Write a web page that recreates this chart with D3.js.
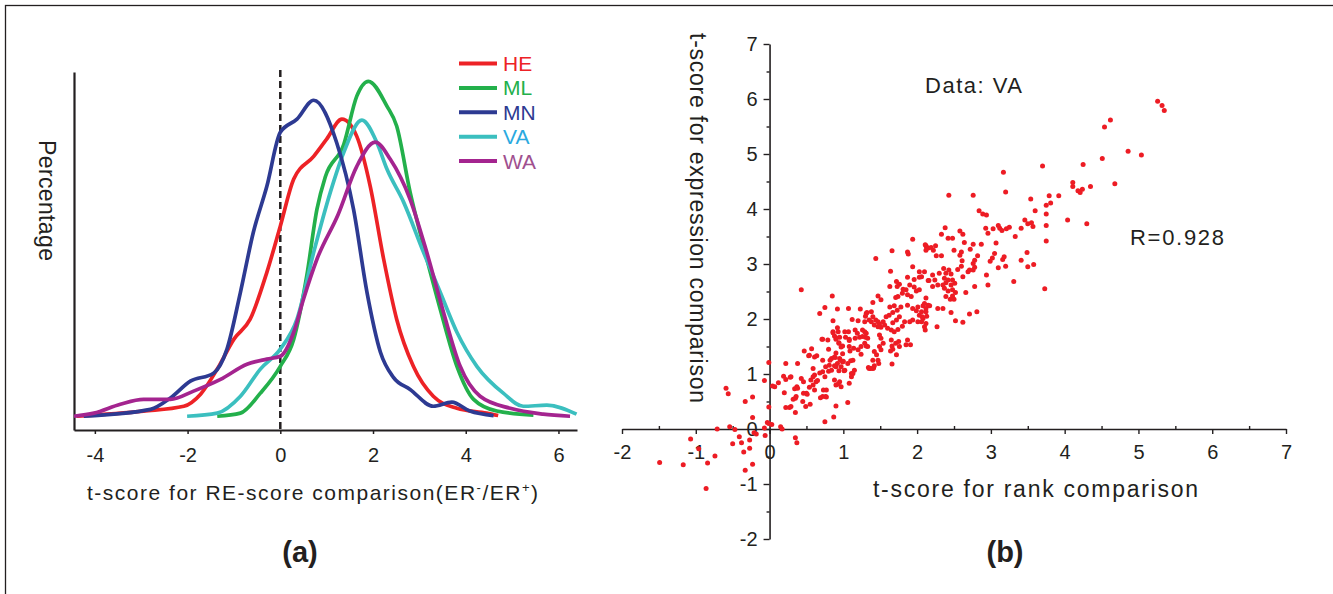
<!DOCTYPE html>
<html><head><meta charset="utf-8">
<script src="https://cdn.jsdelivr.net/npm/d3@7"></script>
<style>
body{margin:0;background:#fff}
svg{display:block}
text{font-family:"Liberation Sans",Arial,Helvetica,sans-serif;fill:#231f20}
</style>
</head><body>
<svg id="c" width="1333" height="594"></svg>
<script>
// ---------- data ----------
const seriesNames = ["HE","ML","MN","VA","WA"];
const lineColors  = {HE:"#ed2226", ML:"#23b04b", MN:"#2d3a92", VA:"#3bbfbf", WA:"#a4248f"};
const labelColors = {HE:"#ed2226", ML:"#23b04b", MN:"#2d3a92", VA:"#2aa9e0", WA:"#a0508f"};
const drawOrder = ["HE","ML","VA","MN","WA"];

// density curves: [t-score, percentage (arbitrary units)]
const densityHE = [[-4.4,0],[-2.95,0.15],[-2.08,0.29],[-1.72,0.64],[-1.36,1.37],[-1.0,2.24],[-0.65,2.82],[-0.29,4.18],[0,5.52],[0.29,6.89],[0.72,7.55],[1.0,8.05],[1.33,8.63],[1.65,8.13],[1.94,6.68],[2.23,4.56],[2.51,2.82],[2.87,1.45],[3.30,0.58],[3.81,0.23],[4.45,0.09],[4.7,0.02]];
const densityML = [[-1.36,0],[-0.86,0.09],[-0.43,0.67],[0,1.45],[0.29,2.24],[0.57,4.07],[0.79,6.01],[0.97,6.95],[1.37,7.9],[1.65,9.3],[1.90,9.73],[2.30,9.01],[2.51,8.43],[2.80,6.51],[3.09,4.94],[3.45,3.11],[3.81,1.45],[4.17,0.49],[4.67,0.15],[5.46,0.03]];
const densityMN = [[-4.24,0],[-2.80,0.20],[-2.37,0.53],[-1.94,1.02],[-1.44,1.25],[-1.15,1.95],[-0.86,3.60],[-0.58,5.35],[-0.29,6.68],[0,8.25],[0.36,8.63],[0.72,9.18],[1.22,7.93],[1.58,6.01],[1.87,3.60],[2.16,1.86],[2.44,1.13],[2.80,0.78],[3.30,0.29],[3.70,0.41],[4.09,0.15],[4.60,0.02]];
const densityVA = [[-2.01,0],[-1.36,0.09],[-0.86,0.58],[-0.43,1.37],[0,1.95],[0.36,2.82],[0.72,4.76],[1.08,6.51],[1.37,7.67],[1.76,8.60],[2.08,7.96],[2.30,7.18],[2.66,6.22],[3.09,4.76],[3.45,3.60],[3.81,2.44],[4.24,1.45],[4.81,0.67],[5.24,0.29],[5.75,0.32],[6.39,0.06]];
const densityWA = [[-4.45,0],[-4.02,0.09],[-3.45,0.35],[-2.95,0.49],[-2.37,0.49],[-1.87,0.73],[-1.29,1.07],[-0.72,1.51],[-0.29,1.66],[0,1.74],[0.29,2.44],[0.5,3.40],[0.79,4.56],[1.25,5.87],[1.65,7.26],[2.05,7.96],[2.37,7.47],[2.80,6.30],[3.16,4.76],[3.52,3.02],[3.88,1.45],[4.31,0.58],[4.96,0.23],[5.67,0.06],[6.25,0]];
const densities = {HE:densityHE, ML:densityML, MN:densityMN, VA:densityVA, WA:densityWA};
const leftTicks = [-4,-2,0,2,4,6];

// scatter (Data: VA): [t-score rank comparison, t-score expression comparison]
const vaPoints = [
[-1.49,-0.61],[-1.17,-0.65],[-1.07,-0.18],[-0.96,-0.36],[-0.84,-0.62],[-0.86,-1.08],[-0.74,-0.49],[-0.71,0.0],[-0.59,0.74],[-0.56,0.64],[-0.54,0.04],[-0.47,-0.01],[-0.50,-0.27],[-0.41,-0.14],[-0.38,-0.25],[-0.35,-0.42],[-0.33,0.50],[-0.33,-0.75],[-0.27,-0.20],[-0.27,-0.35],[-0.23,0.58],[-0.23,0.21],[-0.23,-0.64],[-0.21,-0.07],[-0.18,-0.09],[-0.07,0.88],[-0.07,0.02],[-0.06,-0.12],[-0.03,0.12],[-0.01,1.21],[-0.01,0.40],[-0.01,0.10],[0.03,0.08],[0.04,0.78],[0.07,0.77],[0.12,0.84],[0.15,0.04],[0.17,0.0],[0.19,0.96],[0.22,1.19],[0.22,0.90],[0.20,0.66],[0.22,0.39],[0.27,0.39],[0.28,0.94],[0.35,0.30],[0.35,-0.16],[0.37,-0.25],[0.38,1.19],[0.34,0.73],[0.35,0.56],[0.37,0.77],
[0.43,2.53],[0.85,2.42],[0.75,2.21],[0.68,2.10],[0.92,2.18],[1.07,2.19],[1.23,2.18],[1.31,2.10],[1.12,1.99],[0.86,1.97],[1.20,1.97],[1.29,1.95],[0.86,1.77],[0.93,1.77],[1.02,1.77],[1.07,1.77],[1.16,1.80],[1.19,1.74],[1.29,1.77],[0.88,1.69],[0.95,1.67],[0.90,1.63],[1.03,1.67],[1.08,1.63],[1.16,1.65],[1.22,1.67],[1.30,1.67],[0.72,1.63],[0.79,1.62],[0.94,1.56],[0.99,1.51],[1.08,1.50],[1.14,1.47],[1.20,1.44],[1.24,1.36],[1.31,1.51],[0.80,1.45],[0.57,1.46],[0.47,1.42],[0.53,1.33],[0.61,1.31],[0.72,1.25],[0.64,1.33],[0.90,1.38],[0.88,1.31],[0.84,1.28],[0.95,1.28],[0.99,1.22],[1.06,1.19],[1.13,1.25],[0.81,1.16],[0.88,1.15],[0.76,1.13],[0.84,1.07],[0.90,1.13],[0.97,1.13],[1.02,1.07],[1.11,1.01],[1.15,1.07],[1.34,1.12],[0.59,1.10],[0.68,1.02],[0.72,1.04],[0.75,0.95],[0.61,0.98],[0.56,0.89],[0.63,0.86],[0.59,0.80],[0.54,0.76],[0.50,0.65],[0.61,0.71],[0.29,0.95],[0.43,0.92],[0.46,0.86],[0.38,0.74],[0.36,0.59],[0.32,0.54],[0.45,0.50],[0.49,0.41],[0.55,0.45],[0.29,0.41],[0.88,0.89],[0.90,0.80],[0.97,0.77],[0.95,0.86],[0.77,0.71],[0.72,0.59],[0.76,0.59],[1.08,0.83],[1.13,1.01],[1.11,0.95],[0.90,0.42],[1.06,0.48],[0.87,0.22],[0.75,0.13],
[0.54,1.34],[0.71,1.63],[0.86,1.75],[0.92,1.84],[0.94,1.57],[0.96,1.25],[0.97,1.49],[0.99,1.37],[1.00,1.23],[1.01,1.06],[1.08,1.61],[1.09,1.42],[1.10,1.24],[1.41,1.11],[1.37,1.10],[0.46,0.65],[0.51,0.63],[0.59,0.95],[0.65,0.88],[0.69,0.57],[0.73,0.71],[0.77,0.58],[0.80,1.05],[0.82,1.25],[0.89,1.30],[0.90,1.66],[0.92,1.19],[0.93,0.82],[0.94,1.06],
[1.94,3.45],[2.12,3.33],[2.15,3.29],[1.66,3.24],[1.87,3.22],[1.88,3.18],[1.44,3.10],[1.94,2.95],[2.03,2.86],[2.10,2.86],[1.64,2.87],[1.87,2.76],[1.96,2.72],[2.03,2.76],[2.15,2.70],[1.72,2.68],[1.76,2.63],[1.73,2.59],[1.63,2.59],[1.90,2.62],[1.96,2.58],[2.03,2.53],[1.99,2.51],[1.85,2.53],[1.81,2.54],[1.80,2.47],[1.74,2.41],[1.71,2.39],[1.87,2.44],[1.92,2.41],[2.12,2.38],[1.47,2.42],[1.51,2.35],[1.40,2.30],[1.63,2.22],[1.69,2.24],[1.78,2.22],[1.73,2.16],[1.67,2.12],[1.62,2.07],[1.58,2.04],[1.87,2.25],[1.94,2.19],[2.01,2.22],[1.99,2.15],[2.08,2.24],[2.12,2.19],[2.03,2.07],[2.08,2.01],[1.32,2.12],[1.30,2.05],[1.40,2.04],[1.44,1.98],[1.47,1.95],[1.49,1.91],[1.54,1.95],[1.56,1.89],[1.51,1.85],[1.47,1.86],[1.42,1.89],[1.38,1.95],[1.35,1.98],[1.60,1.83],[1.67,1.93],[1.72,1.98],[1.76,2.04],[1.65,1.80],[1.69,1.77],[1.74,1.81],[1.80,1.87],[1.83,1.95],[1.90,1.95],[1.94,1.98],[2.01,1.95],[2.06,1.95],[2.12,1.92],[2.10,1.86],[1.26,1.80],[1.31,1.74],[1.26,1.68],[1.33,1.65],[1.29,1.56],[1.24,1.50],[1.33,1.50],[1.49,1.71],[1.51,1.65],[1.54,1.56],[1.49,1.50],[1.51,1.44],[1.42,1.41],[1.45,1.35],[1.40,1.25],[1.47,1.25],[1.48,1.19],[1.35,1.10],[1.40,1.10],[1.42,1.15],[1.65,1.62],[1.66,1.51],[1.71,1.56],[1.75,1.59],[1.76,1.50],[1.67,1.45],[1.64,1.42],[1.72,1.35],[1.85,1.53],[1.91,1.53],[1.87,1.62],[1.66,1.18],[1.38,2.13],
[2.43,4.25],[2.76,4.25],[2.84,3.97],[2.89,3.91],[2.94,3.89],[2.93,3.65],[2.96,3.56],[2.38,3.66],[2.33,3.54],[2.42,3.47],[2.48,3.47],[2.58,3.60],[2.62,3.54],[2.64,3.39],[2.76,3.36],[2.87,3.36],[2.11,3.35],[2.13,3.30],[2.19,3.30],[2.25,3.33],[2.22,3.25],[2.12,3.25],[2.50,3.25],[2.60,3.22],[2.58,3.16],[2.72,3.27],[2.26,3.15],[2.33,3.15],[2.82,3.15],[2.78,3.07],[2.76,3.01],[2.78,2.94],[2.71,2.89],[2.69,2.86],[2.76,2.89],[2.60,2.96],[2.61,3.06],[2.55,2.90],[2.36,2.92],[2.43,2.89],[2.46,2.82],[2.39,2.83],[2.30,2.83],[2.21,2.80],[2.24,2.71],[2.16,2.70],[2.06,2.77],[2.37,2.74],[2.42,2.71],[2.48,2.71],[2.51,2.65],[2.46,2.62],[2.39,2.66],[2.35,2.62],[2.28,2.62],[2.21,2.59],[2.37,2.56],[2.42,2.51],[2.48,2.53],[2.52,2.48],[2.48,2.42],[2.39,2.41],[2.45,2.36],[2.50,2.36],[2.62,2.77],[2.66,2.48],[2.78,2.59],[2.94,2.80],[2.96,2.62],[2.10,2.28],[2.15,2.25],[2.17,2.24],[2.06,2.13],[2.12,2.13],[2.13,2.05],[2.07,2.04],[2.11,1.80],[2.27,1.86],[2.28,2.19],[2.35,2.19],[2.46,2.12],[2.52,1.97],[2.62,1.94],[2.71,2.09],[2.81,2.13],
[3.70,4.78],[3.17,4.67],[3.20,4.31],[3.79,4.24],[3.92,4.24],[3.54,4.18],[3.75,4.07],[3.81,4.11],[3.60,3.97],[3.75,3.91],[4.04,3.80],[3.46,3.80],[3.50,3.73],[3.55,3.75],[3.57,3.68],[3.41,3.65],[3.75,3.70],[3.03,3.64],[3.10,3.70],[3.12,3.65],[3.15,3.61],[3.21,3.64],[3.25,3.67],[3.33,3.50],[3.75,3.42],[3.07,3.38],[3.05,3.19],[3.02,3.11],[2.99,3.05],[3.16,3.08],[3.18,3.13],[3.41,3.07],[3.49,3.21],[3.50,2.95],[3.58,2.99],[3.10,2.93],[3.20,2.96],[3.31,2.68],[3.73,2.55],
[5.26,5.96],[5.32,5.88],[5.35,5.79],[4.62,5.62],[4.54,5.49],[4.86,5.05],[5.04,4.98],[4.51,4.92],[4.25,4.81],[4.11,4.48],[4.11,4.41],[4.18,4.33],[4.21,4.30],[4.24,4.36],[4.35,4.41],[4.68,4.46],[4.30,3.73]
];
const rightTicks = [-2,-1,0,1,2,3,4,5,6,7];
const rightMinor = [-1.5,-0.5,0.5,1.5,2.5,3.5,4.5,5.5,6.5];

// ---------- drawing ----------
const svg = d3.select("#c");
const ink = "#231f20";
const fmt = d => String(d);   // plain hyphen for negatives, as in the original

// frame
svg.append("rect").attr("x",5.5).attr("y",5.5).attr("width",1340).attr("height",600)
  .attr("fill","none").attr("stroke",ink).attr("stroke-width",1.3);

// ===== panel (a) =====
const xL = d3.scaleLinear().domain([-4.45, 6.4]).range([74, 577]);
const yL = d3.scaleLinear().domain([-0.4, 10]).range([430, 72]);

const gxL = svg.append("g").attr("transform",`translate(0,${yL(-0.4)})`)
  .call(d3.axisBottom(xL).tickValues(leftTicks).tickSize(4).tickSizeOuter(0).tickPadding(14).tickFormat(fmt));
gxL.select(".domain").attr("stroke",ink).attr("stroke-width",2.2);
gxL.selectAll(".tick line").attr("stroke",ink).attr("stroke-width",1.5);
gxL.selectAll(".tick text").attr("font-size",20).attr("fill",ink)
  .attr("font-family",'"Liberation Sans",Arial,sans-serif');

const gyL = svg.append("g").attr("transform",`translate(${xL(-4.45)},0)`)
  .call(d3.axisLeft(yL).tickValues([]).tickSizeOuter(0));
gyL.select(".domain").attr("stroke",ink).attr("stroke-width",2.2);

// zero dashed line
svg.append("line").attr("x1",xL(0)).attr("x2",xL(0)).attr("y1",yL(10)-2).attr("y2",yL(-0.4))
  .attr("stroke",ink).attr("stroke-width",2.5).attr("stroke-dasharray","7,4");

const line = d3.line().x(d=>xL(d[0])).y(d=>yL(d[1])).curve(d3.curveMonotoneX);
drawOrder.forEach(n=>{
  svg.append("path").datum(densities[n]).attr("d",line)
    .attr("fill","none").attr("stroke",lineColors[n]).attr("stroke-width",3.7)
    .attr("stroke-linejoin","round");
});

// legend
const legY = d3.scalePoint().domain(seriesNames).range([63.5,161]);
seriesNames.forEach(n=>{
  svg.append("line").attr("x1",459).attr("x2",497).attr("y1",legY(n)).attr("y2",legY(n))
    .attr("stroke",lineColors[n]).attr("stroke-width",4);
  svg.append("text").attr("x",503).attr("y",legY(n)+7.5).attr("font-size",21)
    .style("fill",labelColors[n]).text(n);
});

// axis labels (a)
const xlabA = svg.append("text").attr("x",312.5).attr("y",500).attr("text-anchor","middle")
  .attr("font-size",21).attr("textLength",451).attr("lengthAdjust","spacing");
xlabA.append("tspan").text("t-score for RE-score comparison(ER");
xlabA.append("tspan").attr("font-size",13).attr("dy",-8).text("-");
xlabA.append("tspan").attr("dy",8).text("/ER");
xlabA.append("tspan").attr("font-size",13).attr("dy",-8).text("+");
xlabA.append("tspan").attr("dy",8).text(")");

svg.append("text").attr("transform","translate(39,200.5) rotate(90)").attr("text-anchor","middle")
  .attr("font-size",23).attr("textLength",121).attr("lengthAdjust","spacing").text("Percentage");

svg.append("text").attr("x",300).attr("y",562).attr("text-anchor","middle")
  .attr("font-size",29).attr("font-weight","bold").text("(a)");

// ===== panel (b) =====
const xR = d3.scaleLinear().domain([-2,7]).range([622,1286]);
const yR = d3.scaleLinear().domain([-2,7]).range([539,44]);

const gxR = svg.append("g").attr("transform",`translate(0,${yR(0)})`)
  .call(d3.axisBottom(xR).tickValues(rightTicks).tickSize(5).tickSizeOuter(0).tickPadding(11).tickFormat(fmt));
const gxRm = svg.append("g").attr("transform",`translate(0,${yR(0)})`)
  .call(d3.axisBottom(xR).tickValues(rightMinor).tickSize(-3).tickSizeOuter(0).tickFormat(""));
const gyR = svg.append("g").attr("transform",`translate(${xR(0)},0)`)
  .call(d3.axisLeft(yR).tickValues(rightTicks).tickSize(6).tickSizeOuter(0).tickPadding(6).tickFormat(fmt));
const gyRm = svg.append("g").attr("transform",`translate(${xR(0)},0)`)
  .call(d3.axisLeft(yR).tickValues(rightMinor).tickSize(3).tickSizeOuter(0).tickFormat(""));
[gxR,gxRm,gyR,gyRm].forEach(g=>{
  g.select(".domain").attr("stroke",ink).attr("stroke-width",1.6);
  g.selectAll(".tick line").attr("stroke",ink).attr("stroke-width",1.4);
  g.selectAll(".tick text").attr("font-size",20).attr("fill",ink)
    .attr("font-family",'"Liberation Sans",Arial,sans-serif');
});
gxRm.select(".domain").remove();
gyRm.select(".domain").remove();

svg.append("g").selectAll("circle").data(vaPoints).join("circle")
  .attr("cx",d=>xR(d[0])).attr("cy",d=>yR(d[1])).attr("r",2.5).attr("fill","#ed1c24");

svg.append("text").attr("x",1035.5).attr("y",497).attr("text-anchor","middle")
  .attr("font-size",23).attr("textLength",325).attr("lengthAdjust","spacing").text("t-score for rank comparison");
svg.append("text").attr("transform","translate(690,218) rotate(90)").attr("text-anchor","middle")
  .attr("font-size",23).attr("textLength",370).attr("lengthAdjust","spacing").text("t-score for expression comparison");
svg.append("text").attr("x",925).attr("y",93).attr("font-size",22)
  .attr("textLength",97).attr("lengthAdjust","spacing").text("Data: VA");
svg.append("text").attr("x",1130).attr("y",245).attr("font-size",22)
  .attr("textLength",94).attr("lengthAdjust","spacing").text("R=0.928");
svg.append("text").attr("x",1005).attr("y",562).attr("text-anchor","middle")
  .attr("font-size",29).attr("font-weight","bold").text("(b)");
</script>
</body></html>
